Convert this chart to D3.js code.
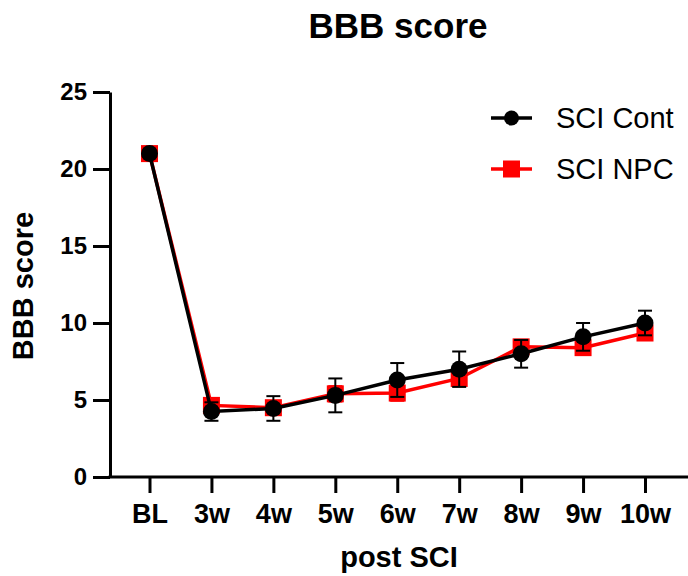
<!DOCTYPE html>
<html>
<head>
<meta charset="utf-8">
<script src="https://cdn.jsdelivr.net/npm/d3@7"></script>
<style>
  body { margin: 0; background: white; }
  text { font-family: Arial, "Liberation Sans", sans-serif; }
</style>
</head>
<body>
<div id="chart-area"></div>
<script>
// data
var categories = ["BL", "3w", "4w", "5w", "6w", "7w", "8w", "9w", "10w"];
var contMean = [21, 4.25, 4.45, 5.3, 6.3, 7.0, 8.0, 9.1, 10.0];
var contErr = [0.1, 0.6, 0.8, 1.1, 1.1, 1.15, 0.9, 0.9, 0.8];
var npcMean = [21, 4.65, 4.5, 5.4, 5.45, 6.4, 8.45, 8.4, 9.35];
var npcErr = [0.1, 0.4, 0.4, 0.5, 0.5, 0.5, 0.4, 0.4, 0.4];
var yTicks = [0, 5, 10, 15, 20, 25];

var width = 688;
var height = 576;

var svg = d3.select("#chart-area").append("svg")
    .attr("width", width)
    .attr("height", height);

var x = d3.scalePoint()
    .domain(categories)
    .range([149.5, 645]);

var y = d3.scaleLinear()
    .domain([0, 25])
    .range([477, 92]);

var axisLeftX = 110;
var axisRightX = 688;

// title
svg.append("text")
    .attr("x", 398)
    .attr("y", 38)
    .attr("text-anchor", "middle")
    .style("font-size", "35px")
    .style("font-weight", "bold")
    .text("BBB score");

// y Axis
var yAxisCall = d3.axisLeft(y)
    .tickValues(yTicks)
    .tickSize(17)
    .tickSizeOuter(0)
    .tickPadding(6);
var yAxis = svg.append("g")
    .attr("class", "y axis")
    .attr("transform", "translate(" + axisLeftX + ", 0)")
    .call(yAxisCall);
yAxis.selectAll("path, line")
    .attr("stroke", "black")
    .attr("stroke-width", 3);
yAxis.selectAll(".tick text")
    .attr("fill", "black")
    .style("font-size", "24px")
    .style("font-weight", "bold");

// x Axis
var xAxisCall = d3.axisBottom(x)
    .tickSize(16)
    .tickPadding(11);
var xAxis = svg.append("g")
    .attr("class", "x axis")
    .attr("transform", "translate(0, " + y(0) + ")")
    .call(xAxisCall);
xAxis.select(".domain").remove();
xAxis.append("line")
    .attr("x1", axisLeftX - 1.5)
    .attr("x2", axisRightX)
    .attr("stroke", "black")
    .attr("stroke-width", 3);
xAxis.selectAll(".tick line")
    .attr("stroke", "black")
    .attr("stroke-width", 3);
xAxis.selectAll(".tick text")
    .attr("fill", "black")
    .style("font-size", "27px")
    .style("font-weight", "bold");

// axis labels
svg.append("text")
    .attr("x", 399)
    .attr("y", 567)
    .attr("text-anchor", "middle")
    .style("font-size", "29px")
    .style("font-weight", "bold")
    .text("post SCI");

svg.append("text")
    .attr("x", -286)
    .attr("y", 33)
    .attr("text-anchor", "middle")
    .attr("transform", "rotate(-90)")
    .style("font-size", "29px")
    .style("font-weight", "bold")
    .text("BBB score");

var line = d3.line()
    .x((d) => x(d.cat))
    .y((d) => y(d.mean));

function toRows(means, errs) {
    return categories.map((c, i) => ({ cat: c, mean: means[i], err: errs[i] }));
}

var series = [
    { name: "SCI NPC", color: "red", shape: "square", rows: toRows(npcMean, npcErr) },
    { name: "SCI Cont", color: "black", shape: "circle", rows: toRows(contMean, contErr) }
];

var capW = 7;

series.forEach((s) => {
    var g = svg.append("g");

    // error bars
    var eb = g.selectAll(".err")
        .data(s.rows)
        .enter()
        .append("g")
        .attr("stroke", s.color)
        .attr("stroke-width", 2);
    eb.append("line")
        .attr("x1", (d) => x(d.cat))
        .attr("x2", (d) => x(d.cat))
        .attr("y1", (d) => y(d.mean - d.err))
        .attr("y2", (d) => y(d.mean + d.err));
    eb.append("line")
        .attr("x1", (d) => x(d.cat) - capW)
        .attr("x2", (d) => x(d.cat) + capW)
        .attr("y1", (d) => y(d.mean + d.err))
        .attr("y2", (d) => y(d.mean + d.err));
    eb.append("line")
        .attr("x1", (d) => x(d.cat) - capW)
        .attr("x2", (d) => x(d.cat) + capW)
        .attr("y1", (d) => y(d.mean - d.err))
        .attr("y2", (d) => y(d.mean - d.err));

    g.append("path")
        .datum(s.rows)
        .attr("d", line)
        .attr("fill", "none")
        .attr("stroke", s.color)
        .attr("stroke-width", 3.5);

    if (s.shape == "square") {
        g.selectAll("rect")
            .data(s.rows)
            .enter()
            .append("rect")
                .attr("x", (d) => x(d.cat) - 8.5)
                .attr("y", (d) => y(d.mean) - 8.5)
                .attr("width", 17)
                .attr("height", 17)
                .attr("fill", s.color);
    } else {
        g.selectAll("circle")
            .data(s.rows)
            .enter()
            .append("circle")
                .attr("cx", (d) => x(d.cat))
                .attr("cy", (d) => y(d.mean))
                .attr("r", 8.5)
                .attr("fill", s.color);
    }
});

// legend
var legendRows = [
    { name: "SCI Cont", color: "black", shape: "circle", y: 118 },
    { name: "SCI NPC", color: "red", shape: "square", y: 169 }
];
legendRows.forEach((r) => {
    var lg = svg.append("g");
    lg.append("line")
        .attr("x1", 491)
        .attr("x2", 532)
        .attr("y1", r.y)
        .attr("y2", r.y)
        .attr("stroke", r.color)
        .attr("stroke-width", 3.5);
    if (r.shape == "circle") {
        lg.append("circle")
            .attr("cx", 511.5)
            .attr("cy", r.y)
            .attr("r", 7.5)
            .attr("fill", r.color);
    } else {
        lg.append("rect")
            .attr("x", 503)
            .attr("y", r.y - 8.5)
            .attr("width", 17)
            .attr("height", 17)
            .attr("fill", r.color);
    }
    lg.append("text")
        .attr("x", 556)
        .attr("y", r.y + 10)
        .style("font-size", "29px")
        .text(r.name);
});
</script>
</body>
</html>
